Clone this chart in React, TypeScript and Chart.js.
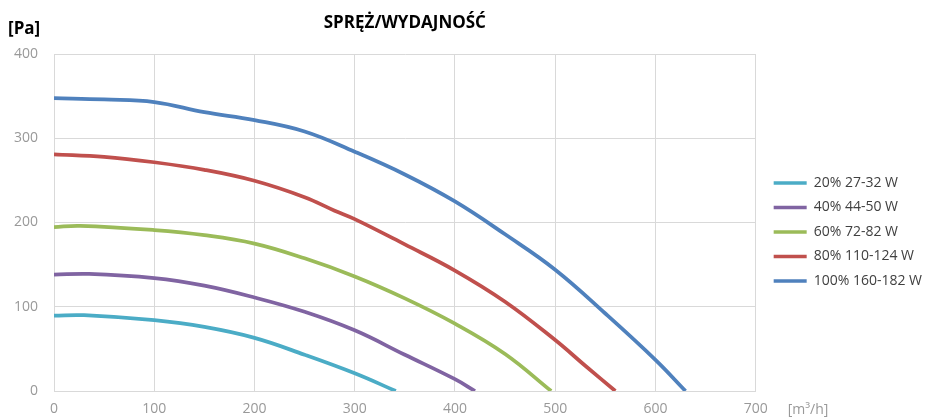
import React, { useEffect, useRef } from "react";
import { Chart, registerables } from "chart.js";

Chart.register(...registerables);

const TITLE = "SPRĘŻ/WYDAJNOŚĆ";
const Y_UNIT = "[Pa]";
const X_UNIT = "[m³/h]";

const seriesLabels = ["20% 27-32 W", "40% 44-50 W", "60% 72-82 W", "80% 110-124 W", "100% 160-182 W"];
const seriesColors = ["#4BACC6", "#8064A2", "#9BBB59", "#C0504D", "#4F81BD"];

// airflow [m3/h] and pressure [Pa] pairs per series
const flow20 = [0, 30, 100, 150, 200, 250, 300, 341];
const press20 = [89.5, 90, 84, 76, 63, 43, 21, 0];

const flow40 = [0, 35, 100, 150, 200, 250, 300, 350, 400, 420];
const press40 = [138, 139, 134, 125, 111, 94, 72, 43, 14, 0];

const flow60 = [0, 26, 100, 150, 200, 250, 300, 350, 400, 450, 496];
const press60 = [194.5, 196, 191, 185, 175, 157.5, 136, 110, 80, 44, 0];

const flow80 = [0, 50, 100, 150, 200, 250, 280, 300, 350, 400, 450, 500, 530, 560];
const press80 = [281, 278, 271.5, 262.5, 249.5, 230, 214, 204, 174, 143, 106, 60.5, 30, 0];

const flow100 = [0, 50, 100, 150, 200, 250, 300, 350, 400, 450, 500, 550, 600, 630];
const press100 = [347.5, 346, 343, 331, 321.5, 308, 284, 257, 225, 186, 144, 92, 37, 0];

const xTicks = [0, 100, 200, 300, 400, 500, 600, 700];
const yTicks = [0, 100, 200, 300, 400];

const flows = [flow20, flow40, flow60, flow80, flow100];
const pressures = [press20, press40, press60, press80, press100];

const FONT = "'Open Sans', 'DejaVu Sans', sans-serif";

export default function App() {
  const ref = useRef<HTMLCanvasElement | null>(null);

  useEffect(() => {
    document.body.style.margin = "0";
    const canvas = ref.current;
    if (!canvas) return;

    const unitsPlugin = {
      id: "units",
      afterDraw(chart: any) {
        const ctx = chart.ctx;
        ctx.save();
        ctx.font = `bold 17px ${FONT}`;
        ctx.fillStyle = "#000000";
        ctx.textAlign = "left";
        ctx.textBaseline = "middle";
        ctx.fillText(Y_UNIT, 8, 29);
        ctx.font = `14px ${FONT}`;
        ctx.fillStyle = "#999999";
        ctx.fillText(X_UNIT, chart.chartArea.right + 32, 410);
        ctx.restore();
      },
    };

    const datasets = seriesLabels.map((label, i) => ({
      label,
      data: flows[i].map((x, j) => ({ x, y: pressures[i][j] })),
      borderColor: seriesColors[i],
      backgroundColor: seriesColors[i],
      borderWidth: 3.75,
      pointRadius: 0,
      tension: 0.4,
      fill: false,
    }));

    const chart = new Chart(canvas, {
      type: "line",
      data: { datasets },
      plugins: [unitsPlugin],
      options: {
        responsive: false,
        animation: false,
        layout: { padding: { top: 0, right: -7, bottom: 0, left: 0 } },
        plugins: {
          title: {
            display: true,
            text: TITLE,
            fullSize: false,
            color: "#000000",
            font: { family: FONT, size: 17, weight: "bold" },
            padding: { top: 13, bottom: 20.6 },
          },
          legend: {
            display: true,
            position: "right",
            fullSize: false,
            align: "center",
            maxWidth: 220,
            title: { display: true, text: "", font: { size: 10, lineHeight: 1 }, padding: { top: 9, bottom: 0 } },
            labels: {
              boxWidth: 33,
              boxHeight: 3.5,
              padding: 10.5,
              color: "#404040",
              font: { family: FONT, size: 14 },
              generateLabels: (c: any) =>
                Chart.defaults.plugins.legend.labels.generateLabels(c).map((l: any) => ({
                  ...l,
                  fillStyle: seriesColors[l.datasetIndex],
                  lineWidth: 0,
                })),
            },
          },
          tooltip: { enabled: false },
        },
        scales: {
          x: {
            type: "linear",
            min: 0,
            max: 700,
            afterBuildTicks: (s: any) => {
              s.ticks = xTicks.map((v) => ({ value: v }));
            },
            afterFit: (s: any) => {
              s.height = 29;
            },
            grid: { color: "#d9d9d9", lineWidth: 1, drawTicks: false },
            border: { color: "#d9d9d9", width: 1 },
            ticks: { color: "#999999", font: { family: FONT, size: 14 }, padding: 10 },
          },
          y: {
            type: "linear",
            min: 0,
            max: 400,
            afterBuildTicks: (s: any) => {
              s.ticks = yTicks.map((v) => ({ value: v }));
            },
            afterFit: (s: any) => {
              s.width = 54;
            },
            grid: { color: "#d9d9d9", lineWidth: 1, drawTicks: false },
            border: { color: "#d9d9d9", width: 1 },
            ticks: { color: "#999999", font: { family: FONT, size: 14 }, padding: 16 },
          },
          gap: {
            type: "linear",
            position: "right",
            display: true,
            grid: { display: false },
            border: { display: false },
            ticks: { display: false },
            afterFit: (s: any) => {
              s.width = 7.5;
            },
          },
        },
      } as any,
    });

    return () => chart.destroy();
  }, []);

  return (
    <div style={{ width: 925, height: 420 }}>
      <canvas ref={ref} width={925} height={420} />
    </div>
  );
}
